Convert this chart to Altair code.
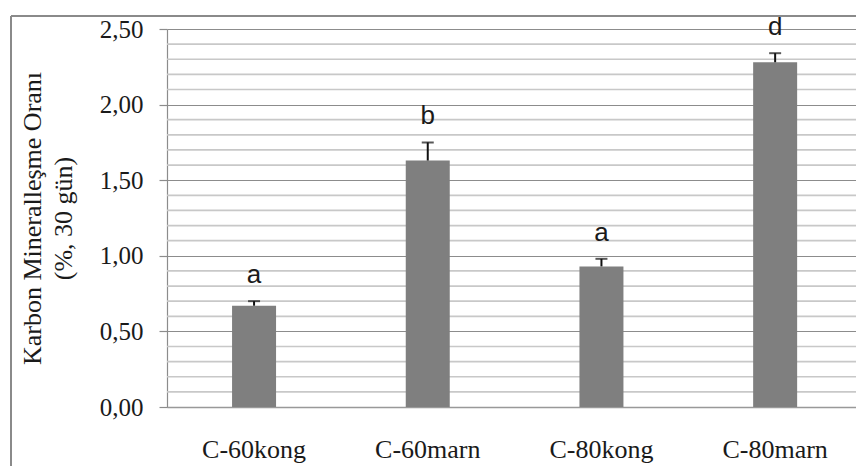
import altair as alt
import pandas as pd

categories = ["C-60kong", "C-60marn", "C-80kong", "C-80marn"]
values = [0.67, 1.63, 0.93, 2.28]
errors = [0.03, 0.12, 0.05, 0.06]
letters = ["a", "b", "a", "d"]
major_ticks = [0.0, 0.5, 1.0, 1.5, 2.0, 2.5]
minor_ticks = [0.1, 0.2, 0.3, 0.4, 0.6, 0.7, 0.8, 0.9, 1.1, 1.2, 1.3, 1.4,
               1.6, 1.7, 1.8, 1.9, 2.1, 2.2, 2.3, 2.4]

df = pd.DataFrame({"cat": categories, "val": values, "err": errors, "lab": letters})
grid_df = pd.DataFrame({"g": minor_ticks})
frame_df = pd.DataFrame({"f": [0]})

serif = "Liberation Serif"
sans = "Liberation Sans"

yscale = alt.Scale(domain=[0, 2.5], nice=False, zero=True)
xscale = alt.Scale(paddingInner=0.7467, paddingOuter=0.3567, align=0.525)

x_enc = alt.X(
    "cat:N",
    sort=categories,
    scale=xscale,
    axis=alt.Axis(
        title=None,
        ticks=False,
        domain=True,
        domainColor="#999999",
        domainWidth=1.5,
        grid=False,
        labelFont=serif,
        labelFontSize=26,
        labelColor="#1a1a1a",
        labelAngle=0,
        labelBaseline="alphabetic",
        labelPadding=50,
    ),
)

y_axis = alt.Axis(
    title=["Karbon Mineralleşme Oranı", "(%, 30 gün)"],
    titleFont=serif,
    titleFontSize=26,
    titleFontWeight="normal",
    titleColor="#1a1a1a",
    titleLineHeight=31,
    titleAngle=270,
    titleBaseline="bottom",
    titleAlign="center",
    titleX=-122,
    titleY=189,
    values=major_ticks,
    labelExpr="replace(format(datum.value, '.2f'), '.', ',')",
    labelFont=serif,
    labelFontSize=25,
    labelColor="#1a1a1a",
    labelPadding=16,
    tickSize=8,
    tickColor="#8c8c8c",
    tickWidth=1.2,
    domain=True,
    domainColor="#8c8c8c",
    domainWidth=1.2,
    grid=True,
    gridColor="#8c8c8c",
    gridWidth=1.2,
)

minor = alt.Chart(grid_df).mark_rule(color="#c8c8c8", strokeWidth=1.7).encode(
    y=alt.Y("g:Q", scale=yscale, axis=y_axis)
)

base = alt.Chart(df)

bars = base.mark_bar(color="#7f7f7f").encode(
    x=x_enc,
    y=alt.Y("val:Q", scale=yscale, axis=y_axis),
)

err_rule = base.transform_calculate(top="datum.val + datum.err").mark_rule(
    color="#111111", strokeWidth=2
).encode(
    x=alt.X("cat:N", sort=categories),
    y=alt.Y("val:Q"),
    y2="top:Q",
)

err_cap = base.transform_calculate(top="datum.val + datum.err").mark_tick(
    color="#111111", thickness=2, size=12
).encode(
    x=alt.X("cat:N", sort=categories),
    y=alt.Y("top:Q"),
)

labels = base.transform_calculate(top="datum.val + datum.err").mark_text(
    font=sans, fontSize=26, color="#1a1a1a", baseline="alphabetic", dy=-18
).encode(
    x=alt.X("cat:N", sort=categories),
    y=alt.Y("top:Q"),
    text="lab:N",
)

frame_top = alt.Chart(frame_df).mark_rule(color="#8a8a8a", strokeWidth=2).encode(
    x=alt.value(-156), x2=alt.value(720), y=alt.value(-13)
)
frame_left = alt.Chart(frame_df).mark_rule(color="#8a8a8a", strokeWidth=2).encode(
    x=alt.value(-156), y=alt.value(-13), y2=alt.value(480)
)

chart = alt.layer(minor, bars, err_rule, err_cap, labels, frame_top, frame_left).properties(
    width=689,
    height=378,
    padding={"left": 159, "top": 21, "right": 0, "bottom": 59},
    autosize=alt.AutoSizeParams(type="none"),
).configure_view(stroke=None)

chart.save("out.html", embed_options={"renderer": "svg", "actions": False})
